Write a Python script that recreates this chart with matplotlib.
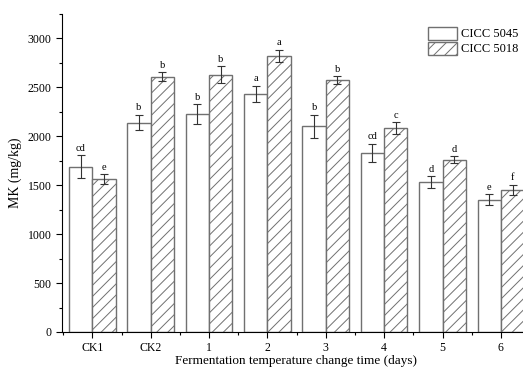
import numpy as np
import matplotlib.pyplot as plt
from matplotlib.ticker import MultipleLocator

plt.rcParams['font.family'] = ['Liberation Serif', 'DejaVu Serif']
plt.rcParams['hatch.color'] = '#666666'
plt.rcParams['hatch.linewidth'] = 0.7

# --- MK content per treatment ---
categories = ["CK1", "CK2", "1", "2", "3", "4", "5", "6"]
mk_5045 = [1690, 2140, 2230, 2430, 2100, 1830, 1530, 1350]
err_5045 = [115, 80, 100, 85, 120, 95, 60, 55]
mk_5018 = [1560, 2610, 2630, 2820, 2575, 2085, 1760, 1450]
err_5018 = [50, 45, 85, 65, 40, 60, 35, 55]
sig_5045 = ["cd", "b", "b", "a", "b", "cd", "d", "e"]
sig_5018 = ["e", "b", "b", "a", "b", "c", "d", "f"]

x = np.arange(len(categories))
width = 0.4

fig = plt.figure(figsize=(5.23, 3.69), dpi=100)
ax = fig.add_axes([0.1185, 0.1003, 0.895, 0.862])

edge = '#707070'
ax.bar(x - width / 2, mk_5045, width, color='white', edgecolor=edge,
       linewidth=1.0, label='CICC 5045')
ax.bar(x + width / 2, mk_5018, width, color='white', edgecolor=edge,
       linewidth=1.0, hatch='///', label='CICC 5018')

ax.errorbar(x - width / 2, mk_5045, yerr=err_5045, fmt='none', ecolor='#333333',
            elinewidth=0.8, capsize=3, capthick=0.8)
ax.errorbar(x + width / 2, mk_5018, yerr=err_5018, fmt='none', ecolor='#333333',
            elinewidth=0.8, capsize=3, capthick=0.8)

# significance letters above the error bars
for xi, v, e, s in zip(x - width / 2, mk_5045, err_5045, sig_5045):
    ax.text(xi, v + e + 25, s, ha='center', va='bottom', fontsize=7.5)
for xi, v, e, s in zip(x + width / 2, mk_5018, err_5018, sig_5018):
    ax.text(xi, v + e + 25, s, ha='center', va='bottom', fontsize=7.5)

ax.set_xlim(-0.52, 7.5)
ax.set_ylim(0, 3250)
ax.set_xticks(x)
ax.set_xticklabels(categories)
ax.xaxis.set_minor_locator(MultipleLocator(0.5))
ax.yaxis.set_major_locator(MultipleLocator(500))
ax.yaxis.set_minor_locator(MultipleLocator(250))
ax.tick_params(which='major', length=4, width=0.8, labelsize=8.5)
ax.tick_params(which='minor', length=2.5, width=0.8)

ax.spines['top'].set_visible(False)
ax.spines['right'].set_visible(False)

ax.set_ylabel("MK (mg/kg)", fontsize=10, labelpad=4)
ax.set_xlabel("Fermentation temperature change time (days)", fontsize=9.5, labelpad=0.5)

ax.legend(loc='upper right', bbox_to_anchor=(0.985, 0.975), frameon=False,
          fontsize=9, handlelength=2.3, handleheight=1.2, handletextpad=0.3,
          labelspacing=0.1, borderaxespad=0)

fig.savefig("out.png", dpi=100)
